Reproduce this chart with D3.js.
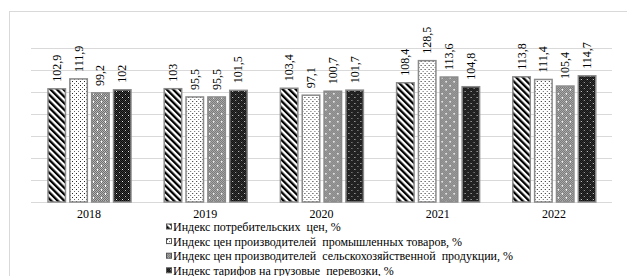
<!DOCTYPE html>
<html>
<head>
<meta charset="utf-8">
<script src="https://cdn.jsdelivr.net/npm/d3@7"></script>
<style>
  body { margin: 0; background: #fff; }
  svg text { font-family: "Liberation Serif", "DejaVu Serif", serif; fill: #000; }
</style>
</head>
<body>
<script>
// Categories and series
const years = ['2018', '2019', '2020', '2021', '2022'];
const seriesNames = [
  'Индекс потребительских  цен, %',
  'Индекс цен производителей  промышленных товаров, %',
  'Индекс цен производителей  сельскохозяйственной  продукции, %',
  'Индекс тарифов на грузовые  перевозки, %'
];
const consumerPrices = [102.9, 103, 103.4, 108.4, 113.8];
const industrialPrices = [111.9, 95.5, 97.1, 128.5, 111.4];
const agriPrices = [99.2, 95.5, 100.7, 113.6, 105.4];
const freightTariffs = [102, 101.5, 101.7, 104.8, 114.7];
const yTicks = [0, 20, 40, 60, 80, 100, 120, 140];

const allSeries = [consumerPrices, industrialPrices, agriPrices, freightTariffs];
const patternIds = ['pStripe', 'pDots', 'pGray', 'pBlack'];

const width = 627, height = 276;
const serif = 'Liberation Serif, DejaVu Serif, serif';

const svg = d3.select('body')
  .append('svg')
  .attr('width', width)
  .attr('height', height);

// Fill patterns for the bars
const defs = svg.append('defs');

const stripe = defs.append('pattern')
  .attr('id', 'pStripe')
  .attr('patternUnits', 'userSpaceOnUse')
  .attr('width', 4.6).attr('height', 4.6)
  .attr('patternTransform', 'rotate(-45)');
stripe.append('rect').attr('width', 4.6).attr('height', 4.6).attr('fill', '#fff');
stripe.append('rect').attr('width', 2.3).attr('height', 4.6).attr('fill', '#000');

const dots = defs.append('pattern')
  .attr('id', 'pDots')
  .attr('patternUnits', 'userSpaceOnUse')
  .attr('width', 4).attr('height', 4);
dots.append('rect').attr('width', 4).attr('height', 4).attr('fill', '#fff');
dots.append('rect').attr('x', 1).attr('y', 1).attr('width', 1).attr('height', 1).attr('fill', '#222');
dots.append('rect').attr('x', 3).attr('y', 3).attr('width', 1).attr('height', 1).attr('fill', '#666');

const gray = defs.append('pattern')
  .attr('id', 'pGray')
  .attr('patternUnits', 'userSpaceOnUse')
  .attr('width', 8).attr('height', 8);
gray.append('rect').attr('width', 8).attr('height', 8).attr('fill', '#6e6e6e');
for (let i = 0; i < 8; i += 1) {
  for (let j = 0; j < 8; j += 1) {
    if ((i + j) % 2 === 0) {
      gray.append('rect').attr('x', i).attr('y', j).attr('width', 1).attr('height', 1).attr('fill', '#b4b4b4');
    }
  }
}
gray.append('rect').attr('x', 2).attr('y', 1).attr('width', 1).attr('height', 2).attr('fill', '#fff');
gray.append('rect').attr('x', 6).attr('y', 5).attr('width', 1).attr('height', 2).attr('fill', '#fff');

const black = defs.append('pattern')
  .attr('id', 'pBlack')
  .attr('patternUnits', 'userSpaceOnUse')
  .attr('width', 6).attr('height', 6);
black.append('rect').attr('width', 6).attr('height', 6).attr('fill', '#0a0a0a');
for (let i = 0; i < 6; i += 1) {
  for (let j = 0; j < 6; j += 1) {
    if ((i + j) % 2 === 0) {
      black.append('rect').attr('x', i).attr('y', j).attr('width', 1).attr('height', 1).attr('fill', '#3a3a3a');
    }
  }
}
black.append('rect').attr('x', 1).attr('y', 1).attr('width', 1).attr('height', 1).attr('fill', '#eee');
black.append('rect').attr('x', 4).attr('y', 4).attr('width', 1).attr('height', 1).attr('fill', '#bbb');

// Chart frame (continues past the photographed area on the right and bottom)
svg.append('rect')
  .attr('x', 9.5).attr('y', 11.5)
  .attr('width', 640).attr('height', 300)
  .attr('fill', 'none')
  .attr('stroke', '#d9d9d9');

// Scales
const x0 = d3.scaleBand().domain(years).range([31, 612]);
const x1 = d3.scaleBand().domain(d3.range(4)).range([17, 100]).paddingInner(0.2);
const y = d3.scaleLinear().domain([0, 140]).range([202, 48]);

// Gridlines
svg.append('g')
  .selectAll('line')
  .data(yTicks)
  .join('line')
  .attr('x1', 31).attr('x2', 612)
  .attr('y1', d => Math.round(y(d)) + 0.5)
  .attr('y2', d => Math.round(y(d)) + 0.5)
  .attr('stroke', '#d9d9d9')
  .attr('stroke-width', 1);

// Bars
const groups = svg.append('g')
  .selectAll('g')
  .data(years)
  .join('g')
  .attr('transform', d => `translate(${x0(d)},0)`);

groups.selectAll('rect')
  .data((d, i) => allSeries.map((s, k) => ({ k, v: s[i] })))
  .join('rect')
  .attr('x', d => x1(d.k))
  .attr('y', d => y(d.v))
  .attr('width', x1.bandwidth())
  .attr('height', d => y(0) - y(d.v))
  .attr('fill', d => `url(#${patternIds[d.k]})`)
  .attr('stroke', '#8a8a8a')
  .attr('stroke-width', 1.5);

// Value labels, rotated
groups.selectAll('text')
  .data((d, i) => allSeries.map((s, k) => ({ k, v: s[i] })))
  .join('text')
  .attr('transform', d => `translate(${x1(d.k) + x1.bandwidth() / 2 + 4},${y(d.v) - 7}) rotate(-90)`)
  .attr('font-family', serif)
  .attr('font-size', 12)
  .text(d => String(d.v).replace('.', ','));

// Category labels
svg.append('g')
  .selectAll('text')
  .data(years)
  .join('text')
  .attr('x', d => x0(d) + x0.bandwidth() / 2)
  .attr('y', 218)
  .attr('text-anchor', 'middle')
  .attr('font-family', serif)
  .attr('font-size', 12)
  .text(d => d);

// Legend
const legend = svg.append('g')
  .selectAll('g')
  .data(seriesNames)
  .join('g')
  .attr('transform', (d, i) => `translate(166,${227.5 + i * 14.6})`);

legend.append('rect')
  .attr('x', 0.5).attr('y', -3.5)
  .attr('width', 5).attr('height', 5)
  .attr('fill', (d, i) => `url(#${patternIds[i]})`)
  .attr('stroke', '#555')
  .attr('stroke-width', 1);

legend.append('text')
  .attr('x', 7)
  .attr('y', 3.5)
  .attr('font-family', serif)
  .attr('font-size', 12)
  .style('white-space', 'pre')
  .text(d => d);
</script>
</body>
</html>
